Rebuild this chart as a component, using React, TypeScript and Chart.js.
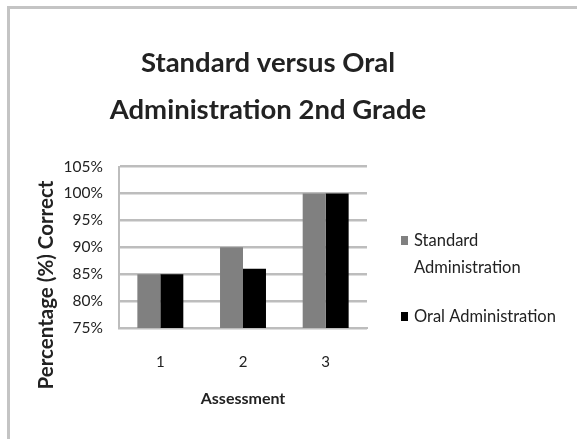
import React, { useEffect, useRef } from "react";
import { Chart, registerables } from "chart.js";

Chart.register(...registerables);

const titleLines = ["Standard versus Oral", "Administration 2nd Grade"];
const categories = ["1", "2", "3"];
const standardValues = [85, 90, 100];
const oralValues = [85, 86, 100];
const seriesLabels = ["Standard Administration", "Oral Administration"];
const legendLines = [["Standard", "Administration"], ["Oral Administration"]];
const xAxisTitle = "Assessment";
const yAxisTitle = "Percentage (%) Correct";
const yMin = 75;
const yMax = 105;
const yStep = 5;

const FONT = "Lato, 'Open Sans', sans-serif";
const TEXT = "#222222";
const GRID = "#bdbdbd";

const framePlugin = {
  id: "frame",
  beforeDraw(chart: any) {
    const ctx = chart.ctx;
    ctx.save();
    ctx.fillStyle = "#ffffff";
    ctx.fillRect(0, 0, chart.width, chart.height);
    ctx.fillStyle = "#c4c4c4";
    ctx.fillRect(7, 6, chart.width - 7, 3);
    ctx.fillRect(7, 6, 3, chart.height - 6);
    ctx.restore();
  },
};

const extrasPlugin = {
  id: "extras",
  afterDraw(chart: any) {
    const ctx = chart.ctx;
    const area = chart.chartArea;
    ctx.save();
    // y axis title
    ctx.font = `bold 20.5px ${FONT}`;
    ctx.fillStyle = TEXT;
    ctx.textAlign = "center";
    ctx.textBaseline = "middle";
    ctx.translate(46, area.bottom - 43);
    ctx.rotate(-Math.PI / 2);
    ctx.fillText(yAxisTitle, 0, 0);
    ctx.restore();

    // legend
    ctx.save();
    ctx.font = `16.5px ${FONT}`;
    ctx.textAlign = "left";
    ctx.textBaseline = "middle";
    const boxX = area.right + 34;
    const textX = area.right + 47;
    const rows = [241, 317];
    chart.data.datasets.forEach((ds: any, i: number) => {
      const y0 = rows[i];
      ctx.fillStyle = ds.backgroundColor;
      ctx.fillRect(boxX, y0 - 5, 7, 9);
      ctx.fillStyle = TEXT;
      legendLines[i].forEach((line: string, j: number) => {
        ctx.fillText(line, textX, y0 + j * 27);
      });
    });
    ctx.restore();
  },
};

export default function App() {
  const ref = useRef<HTMLCanvasElement | null>(null);
  useEffect(() => {
    if (!ref.current) return;
    const chart = new Chart(ref.current, {
      type: "bar",
      data: {
        labels: categories,
        datasets: [
          {
            label: seriesLabels[0],
            data: standardValues,
            backgroundColor: "#808080",
            barPercentage: 1,
            categoryPercentage: 0.556,
          },
          {
            label: seriesLabels[1],
            data: oralValues,
            backgroundColor: "#000000",
            barPercentage: 1,
            categoryPercentage: 0.556,
          },
        ],
      },
      options: {
        animation: false,
        responsive: false,
        layout: { padding: { left: 0, right: 41, top: 0, bottom: 0 } },
        plugins: {
          legend: { display: false },
          tooltip: { enabled: false },
          title: {
            display: true,
            text: titleLines,
            color: TEXT,
            font: { family: FONT, size: 27.5, weight: "bold", lineHeight: 1.7 },
            padding: { top: 40, bottom: 33 },
          },
        },
        scales: {
          x: {
            grid: { display: false, drawTicks: false },
            border: { display: true, color: GRID, width: 2 },
            ticks: { color: TEXT, font: { family: FONT, size: 15 }, padding: 25 },
            title: {
              display: true,
              text: xAxisTitle,
              color: TEXT,
              font: { family: FONT, size: 16, weight: "bold", lineHeight: 1.2 },
              padding: { top: 0, bottom: 31 },
            },
            afterFit(scale: any) {
              scale.height = 111;
            },
          },
          y: {
            min: yMin,
            max: yMax,
            grid: { color: GRID, lineWidth: 2.5, drawTicks: false },
            border: { display: true, color: GRID, width: 2 },
            ticks: {
              stepSize: yStep,
              color: TEXT,
              font: { family: FONT, size: 15.5 },
              padding: 16,
              callback: (v: any) => `${v}%`,
            },
            afterFit(scale: any) {
              scale.width = 119;
            },
          },
          y2: {
            type: "linear",
            position: "right",
            min: 0,
            max: 1,
            display: true,
            grid: { display: false, drawTicks: false },
            border: { display: false },
            ticks: { display: false },
            afterFit(scale: any) {
              scale.width = 169;
            },
          },
        },
      },
      plugins: [framePlugin, extrasPlugin],
    } as any);
    return () => chart.destroy();
  }, []);
  return (
    <div style={{ position: "fixed", left: 0, top: 0, width: 577, height: 439 }}>
      <canvas ref={ref} width={577} height={439} style={{ display: "block" }} />
    </div>
  );
}
